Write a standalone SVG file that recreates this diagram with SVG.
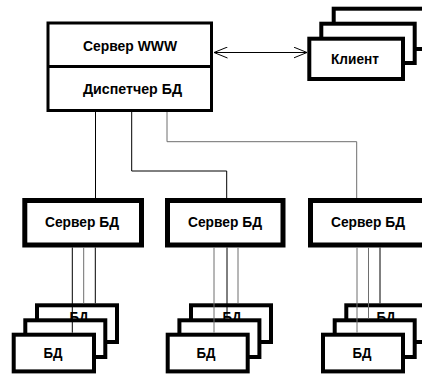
<svg xmlns="http://www.w3.org/2000/svg" width="422" height="374" viewBox="0 0 422 374">
<style>
.box{fill:#fff;stroke:#000}
.t{font-family:"Liberation Sans",Arial,sans-serif;font-weight:bold;font-size:15px;fill:#000;text-anchor:middle}
.c{fill:none;stroke:#000;stroke-width:1}
.g{fill:none;stroke:#6e6e6e;stroke-width:1}
.db{fill:#fff;stroke:#000;stroke-width:4}
.srv{fill:#fff;stroke:#000;stroke-width:5}
</style>
<defs>
<marker id="ah" viewBox="0 0 14 12" refX="13.5" refY="6" markerWidth="14" markerHeight="12" markerUnits="userSpaceOnUse" orient="auto-start-reverse">
<path d="M0,0.5 L13.5,6 L0,11.5" fill="none" stroke="#000" stroke-width="1"/>
</marker>
</defs>
<g id="main">
<rect class="box" x="48" y="23" width="163.5" height="87.5" stroke-width="3"/>
<line x1="48" y1="66.5" x2="211.5" y2="66.5" stroke="#000" stroke-width="3"/>
<text class="t" x="130" y="50.5" textLength="94" lengthAdjust="spacingAndGlyphs">Сервер WWW</text>
<text class="t" x="132.5" y="93.5" textLength="99" lengthAdjust="spacingAndGlyphs">Диспетчер БД</text>
</g>
<g id="client">
<rect class="box" stroke-width="4" x="333.7" y="8.7" width="96" height="40.3"/>
<rect class="box" stroke-width="4" x="321.3" y="23.7" width="93.4" height="39.3"/>
<rect class="box" stroke-width="4" x="309.3" y="38.7" width="93.7" height="40.3"/>
<text class="t" x="355" y="63.5" textLength="48" lengthAdjust="spacingAndGlyphs">Клиент</text>
</g>
<g id="server1">
<rect class="srv" x="24.8" y="200.5" width="116.7" height="44.5"/>
<text class="t" x="82" y="227" textLength="74" lengthAdjust="spacingAndGlyphs">Сервер БД</text>
</g>
<g id="server2">
<rect class="srv" x="167.5" y="200.5" width="115.5" height="44.5"/>
<text class="t" x="225" y="227" textLength="74" lengthAdjust="spacingAndGlyphs">Сервер БД</text>
</g>
<g id="server3">
<rect class="srv" x="310.5" y="200.5" width="120" height="44.5"/>
<text class="t" x="368" y="227" textLength="74" lengthAdjust="spacingAndGlyphs">Сервер БД</text>
</g>
<g id="db1">
<rect class="db" x="37" y="305.3" width="80" height="36.7"/>
<text class="t" x="79" y="321.5" textLength="19" lengthAdjust="spacingAndGlyphs">БД</text>
<rect class="db" x="25.3" y="320.3" width="80" height="36.7"/>
<rect class="db" x="13.7" y="334.7" width="80.3" height="36.7"/>
<text class="t" x="53" y="358" textLength="19" lengthAdjust="spacingAndGlyphs">БД</text>
</g>
<g id="db2">
<rect class="db" x="191" y="305.3" width="80" height="36.7"/>
<text class="t" x="232" y="321.5" textLength="19" lengthAdjust="spacingAndGlyphs">БД</text>
<rect class="db" x="179.4" y="320.3" width="80" height="36.7"/>
<rect class="db" x="167.7" y="334.7" width="80" height="36.7"/>
<text class="t" x="206" y="358" textLength="19" lengthAdjust="spacingAndGlyphs">БД</text>
</g>
<g id="db3">
<rect class="db" x="346.3" y="305.3" width="80" height="36.7"/>
<text class="t" x="386" y="321.5" textLength="19" lengthAdjust="spacingAndGlyphs">БД</text>
<rect class="db" x="334.7" y="320.3" width="80" height="36.7"/>
<rect class="db" x="323" y="334.7" width="80" height="36.7"/>
<text class="t" x="362" y="358" textLength="19" lengthAdjust="spacingAndGlyphs">БД</text>
</g>
<g id="connectors">
<line class="c" x1="214" y1="52.5" x2="307" y2="52.5" marker-start="url(#ah)" marker-end="url(#ah)"/>
<polyline class="c" points="95.5,112 95.5,198"/>
<polyline class="c" points="131.7,112 131.7,171 226.7,171 226.7,198"/>
<polyline class="g" points="167,112 167,141.7 356.7,141.7 356.7,198"/>
<line class="c" x1="72.3" y1="247.5" x2="72.3" y2="332.7"/>
<line class="g" x1="83.7" y1="247.5" x2="83.7" y2="303.3"/>
<line class="c" x1="95.3" y1="247.5" x2="95.3" y2="303.3"/>
<line class="g" x1="214" y1="247.5" x2="214" y2="332.7"/>
<line class="c" x1="227" y1="247.5" x2="227" y2="318.3"/>
<line class="g" x1="238" y1="247.5" x2="238" y2="303.3"/>
<line class="g" x1="357" y1="247.5" x2="357" y2="332.7"/>
<line class="g" x1="368.5" y1="247.5" x2="368.5" y2="318.3"/>
<line class="c" x1="380" y1="247.5" x2="380" y2="303.3"/>
</g>
</svg>
